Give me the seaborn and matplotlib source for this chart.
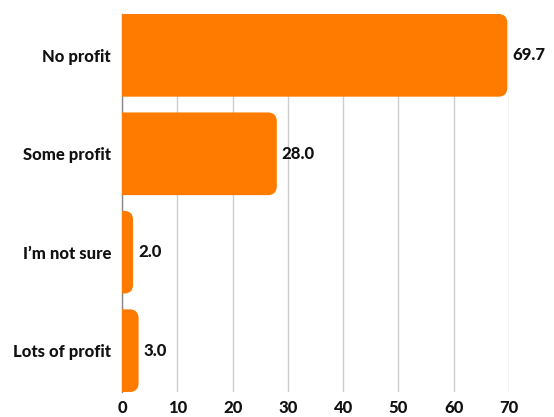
import matplotlib
matplotlib.use("Agg")
import matplotlib.pyplot as plt
import seaborn as sns
import pandas as pd
from matplotlib.patches import FancyBboxPatch

categories = ["No profit", "Some profit", "I\u2019m not sure", "Lots of profit"]
values = [69.7, 28.0, 2.0, 3.0]
xticks = [0, 10, 20, 30, 40, 50, 60, 70]

df = pd.DataFrame({"category": categories, "value": values})

sns.set_theme(style="white")
plt.rcParams["font.family"] = ["Lato", "DejaVu Sans"]

fig = plt.figure(figsize=(5.54, 4.17), dpi=100)
ax = fig.add_axes([122 / 554, 25 / 417, (509 - 122) / 554, (392 - 14) / 417])

color = "#FF7B00"
bar_h = 0.84
sns.barplot(data=df, x="value", y="category", color=color, width=bar_h,
            saturation=1, ax=ax, orient="h")

ax.set_xlim(0, 70)
ax.set_ylim(3 + bar_h / 2, -bar_h / 2)

# replace bars with right-rounded versions
px_per_x = ax.get_position().width * 554 / 70
px_per_y = ax.get_position().height * 417 / (3 + bar_h)
r_px = 9
rx = r_px / px_per_x
aspect = (1 / px_per_y) / (1 / px_per_x)
bars = list(ax.patches)
for p in bars:
    x0, y0 = p.get_x(), p.get_y()
    w, h = p.get_width(), p.get_height()
    p.set_visible(False)
    rr = min(rx, (w + rx) / 2)
    fb = FancyBboxPatch((x0 - rx, y0), w + rx, h,
                        boxstyle=f"round,pad=0,rounding_size={rr}",
                        mutation_aspect=aspect, facecolor=color,
                        edgecolor="none", zorder=3)
    ax.add_patch(fb)
    ax.text(x0 + w + 5 / px_per_x, y0 + h / 2, f"{w:.1f}", ha="left",
            va="center", fontsize=12, fontweight="black", color="#111111",
            clip_on=False)

ax.set_xticks(xticks)
ax.set_xticklabels([str(t) for t in xticks])
ax.grid(axis="x", color="#cccccc", linewidth=1, zorder=0)
ax.set_axisbelow(True)
for s in ["top", "right", "bottom"]:
    ax.spines[s].set_visible(False)
ax.spines["left"].set_color("#888888")
ax.spines["left"].set_linewidth(1)
ax.spines["left"].set_zorder(2)
ax.set_xlabel("")
ax.set_ylabel("")
ax.tick_params(axis="both", length=0)
ax.tick_params(axis="y", pad=8)
ax.tick_params(axis="x", pad=6)
for lab in ax.get_xticklabels() + ax.get_yticklabels():
    lab.set_fontweight("black")
    lab.set_fontsize(12)
    lab.set_color("#111111")

fig.savefig("out.png", dpi=100)
